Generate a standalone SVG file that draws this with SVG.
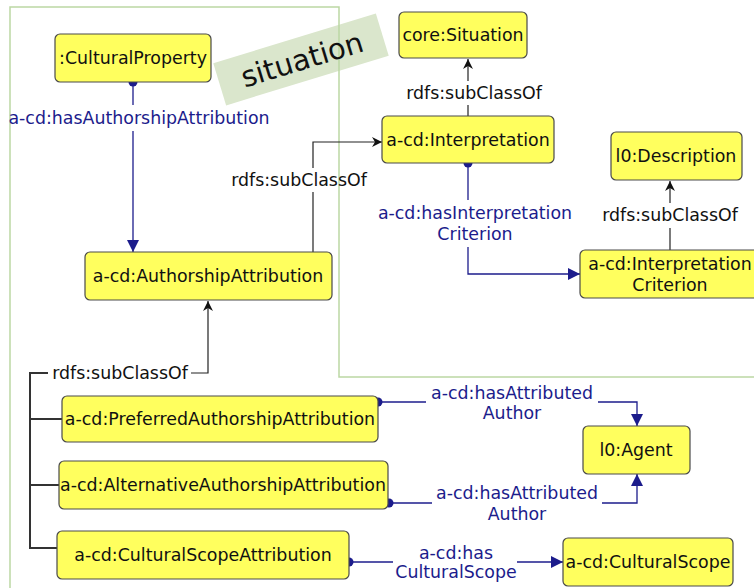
<svg xmlns="http://www.w3.org/2000/svg" width="754" height="588" viewBox="0 0 754 588">
<style>
.node rect{fill:#ffff5e;stroke:#4a4a4a;stroke-width:1.2}
.node text{font-family:"DejaVu Sans","Liberation Sans",sans-serif;font-size:17.4px;fill:#111;text-anchor:middle}
.sub{fill:none;stroke:#222;stroke-width:1.2}
.sub2{fill:none;stroke:#333;stroke-width:2}
.obj{fill:none;stroke:#1c1c8c;stroke-width:1.3}
.lbl{font-family:"DejaVu Sans","Liberation Sans",sans-serif;font-size:17.4px;text-anchor:middle}
.lk{fill:#111}
.lb{fill:#1c1c8c}
.dot{fill:#1c1c8c}
</style>
<defs>
<marker id="ab" viewBox="0 0 12 12" refX="12" refY="6" markerWidth="12" markerHeight="12" markerUnits="userSpaceOnUse" orient="auto">
<path d="M0,0 L12,6 L0,12 Z" fill="#1c1c8c"/>
</marker>
<marker id="ak" viewBox="0 0 10 10" refX="10" refY="5" markerWidth="10" markerHeight="10" markerUnits="userSpaceOnUse" orient="auto">
<path d="M0,0 L10,5 L0,10 L3,5 Z" fill="#111"/>
</marker>
</defs>
<rect width="754" height="588" fill="#fff"/>
<g id="situation-label">
<rect x="216" y="37.5" width="170" height="44" fill="#dae6cc" transform="rotate(-17 301 59.5)"/>
</g>
<path id="frame" d="M10,588 V7 H339 V377 H754" fill="none" stroke="#bcd8a4" stroke-width="1.5"/>
<text x="302" y="70" font-family="DejaVu Sans,Liberation Sans,sans-serif" font-size="29" fill="#111" text-anchor="middle" transform="rotate(-17 301 59.5)">situation</text>

<g id="connectors">
<path class="obj" d="M133,82 V105"/>
<path class="obj" d="M133,131 V252" marker-end="url(#ab)"/>
<circle class="dot" cx="133" cy="82" r="4.5"/>
<text class="lbl lb" x="139" y="124">a-cd:hasAuthorshipAttribution</text>
<path class="sub" d="M313,252 V192"/>
<path class="sub" d="M313,168 V142 H382" marker-end="url(#ak)"/>
<text class="lbl lk" x="299" y="186">rdfs:subClassOf</text>
<path class="sub" d="M468,116 V105"/>
<path class="sub" d="M468,81 V59" marker-end="url(#ak)"/>
<text class="lbl lk" x="474" y="99">rdfs:subClassOf</text>
<path class="obj" d="M468,163 V200"/>
<path class="obj" d="M468,247 V274 H580" marker-end="url(#ab)"/>
<circle class="dot" cx="468" cy="163" r="4.5"/>
<text class="lbl lb" x="475" y="219">a-cd:hasInterpretation</text>
<text class="lbl lb" x="475" y="240">Criterion</text>
<path class="sub" d="M670,250 V228"/>
<path class="sub" d="M670,203 V181" marker-end="url(#ak)"/>
<text class="lbl lk" x="670" y="221">rdfs:subClassOf</text>
<path class="sub2" d="M48,373 H30 V548 H57 M30,419 H62 M30,485 H59"/>
<path class="sub" d="M191,373 H208 V301" marker-end="url(#ak)"/>
<text class="lbl lk" x="120" y="379">rdfs:subClassOf</text>
<path class="obj" d="M378,402 H426"/>
<path class="obj" d="M598,402 H637 V426" marker-end="url(#ab)"/>
<circle class="dot" cx="378" cy="402" r="4.5"/>
<text class="lbl lb" x="512" y="399">a-cd:hasAttributed</text>
<text class="lbl lb" x="512" y="419">Author</text>
<path class="obj" d="M389,503 H432"/>
<path class="obj" d="M602,503 H637 V474" marker-end="url(#ab)"/>
<circle class="dot" cx="389" cy="503" r="4.5"/>
<text class="lbl lb" x="517" y="499">a-cd:hasAttributed</text>
<text class="lbl lb" x="517" y="520">Author</text>
<path class="obj" d="M349,562 H393"/>
<path class="obj" d="M517,562 H563" marker-end="url(#ab)"/>
<circle class="dot" cx="349" cy="562" r="4.5"/>
<text class="lbl lb" x="456" y="559">a-cd:has</text>
<text class="lbl lb" x="456" y="578">CulturalScope</text>
</g>

<g id="n-culturalproperty" class="node"><rect x="55" y="34" width="156" height="48" rx="5"/><text x="133" y="64">:CulturalProperty</text></g>
<g id="n-situation" class="node"><rect x="399" y="12" width="128" height="46" rx="5"/><text x="463" y="41">core:Situation</text></g>
<g id="n-interpretation" class="node"><rect x="382" y="116" width="172" height="47" rx="5"/><text x="468" y="146">a-cd:Interpretation</text></g>
<g id="n-description" class="node"><rect x="611" y="132" width="131" height="48" rx="5"/><text x="676" y="162">l0:Description</text></g>
<g id="n-authorshipattribution" class="node"><rect x="85" y="252" width="247" height="48" rx="5"/><text x="208" y="282">a-cd:AuthorshipAttribution</text></g>
<g id="n-interpretationcriterion" class="node"><rect x="580" y="250" width="182" height="48" rx="5"/><text x="670" y="270">a-cd:Interpretation</text><text x="670" y="291">Criterion</text></g>
<g id="n-preferred" class="node"><rect x="62" y="396" width="316" height="46" rx="5"/><text x="220" y="425">a-cd:PreferredAuthorshipAttribution</text></g>
<g id="n-alternative" class="node"><rect x="59" y="461" width="329" height="48" rx="5"/><text x="223" y="491">a-cd:AlternativeAuthorshipAttribution</text></g>
<g id="n-culturalscopeattribution" class="node"><rect x="57" y="531" width="292" height="48" rx="5"/><text x="203" y="561">a-cd:CulturalScopeAttribution</text></g>
<g id="n-agent" class="node"><rect x="583" y="426" width="107" height="48" rx="5"/><text x="636" y="456">l0:Agent</text></g>
<g id="n-culturalscope" class="node"><rect x="563" y="538" width="170" height="48" rx="5"/><text x="648" y="568">a-cd:CulturalScope</text></g>
</svg>
